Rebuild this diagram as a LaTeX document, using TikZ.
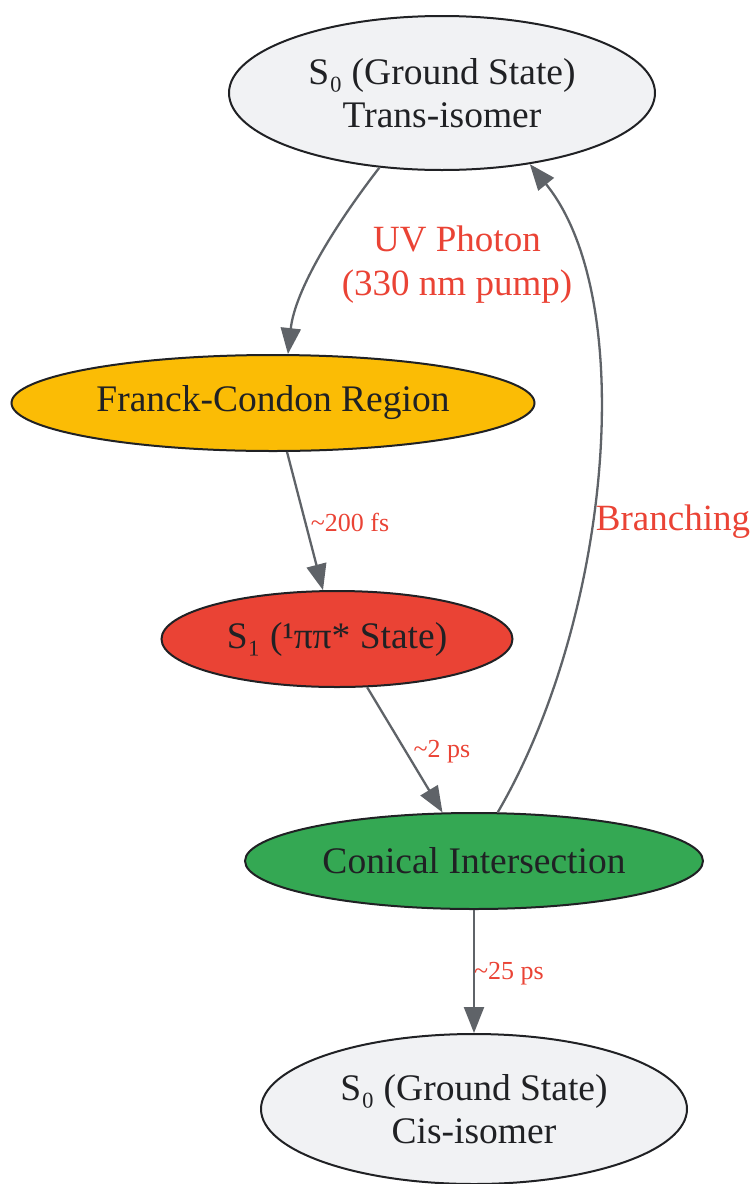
\documentclass[tikz,border=0pt]{standalone}
\usepackage{fontspec}
\setmainfont{Liberation Serif}
\usetikzlibrary{arrows.meta,shapes.geometric}
\definecolor{edgec}{HTML}{5F6368}
\definecolor{labc}{HTML}{EA4335}
\definecolor{txtc}{HTML}{202124}
\definecolor{grayf}{HTML}{F1F2F4}
\definecolor{yelf}{HTML}{FBBC05}
\definecolor{redf}{HTML}{EA4335}
\definecolor{grnf}{HTML}{34A853}
\tikzset{
  state/.style={ellipse, draw=txtc, line width=2pt, inner sep=0pt, text=txtc, align=center,
    font=\fontsize{37.5}{43}\selectfont},
  conn/.style={draw=edgec, line width=2.3pt, -{Triangle[length=26pt,width=20pt]}},
  biglab/.style={text=labc, align=center, font=\fontsize{37}{44}\selectfont},
  smalllab/.style={text=labc, font=\fontsize{26}{30}\selectfont},
}
\begin{document}
\begin{tikzpicture}[x=1pt,y=-1pt]
\useasboundingbox (0,0) rectangle (753,1184);
\node[state, fill=grayf, minimum width=426pt, minimum height=154pt] (trans) at (442,93) {S₀ (Ground State)\\Trans-isomer};
\node[state, fill=yelf, minimum width=523pt, minimum height=96pt] (fc) at (273,403) {Franck-Condon Region};
\node[state, fill=redf, minimum width=351pt, minimum height=96pt] (s1) at (337,639) {S₁ (¹ππ* State)};
\node[state, fill=grnf, minimum width=458pt, minimum height=96pt] (ci) at (474,861) {Conical Intersection};
\node[state, fill=grayf, minimum width=426pt, minimum height=150pt] (cis) at (474,1109) {S₀ (Ground State)\\Cis-isomer};

\draw[conn] (trans.230) .. controls (335,225) and (295,290) .. (fc.73);
\draw[conn] (fc.286) -- (s1.106);
\draw[conn] (s1.302) -- (ci.123);
\draw[conn] (ci.64) .. controls (610,620) and (640,300) .. (trans.321);
\draw[conn] (ci) -- (cis);

\node[biglab] (l1) at (457,265) {UV Photon\\(330 nm pump)};
\node[smalllab] (l2) at (350,522) {\textasciitilde200 fs};
\node[smalllab] (l3) at (442,752) {\textasciitilde2 ps};
\node[biglab] (l4) at (673,522) {Branching};
\node[smalllab] (l5) at (509,974) {\textasciitilde25 ps};
\end{tikzpicture}
\end{document}
